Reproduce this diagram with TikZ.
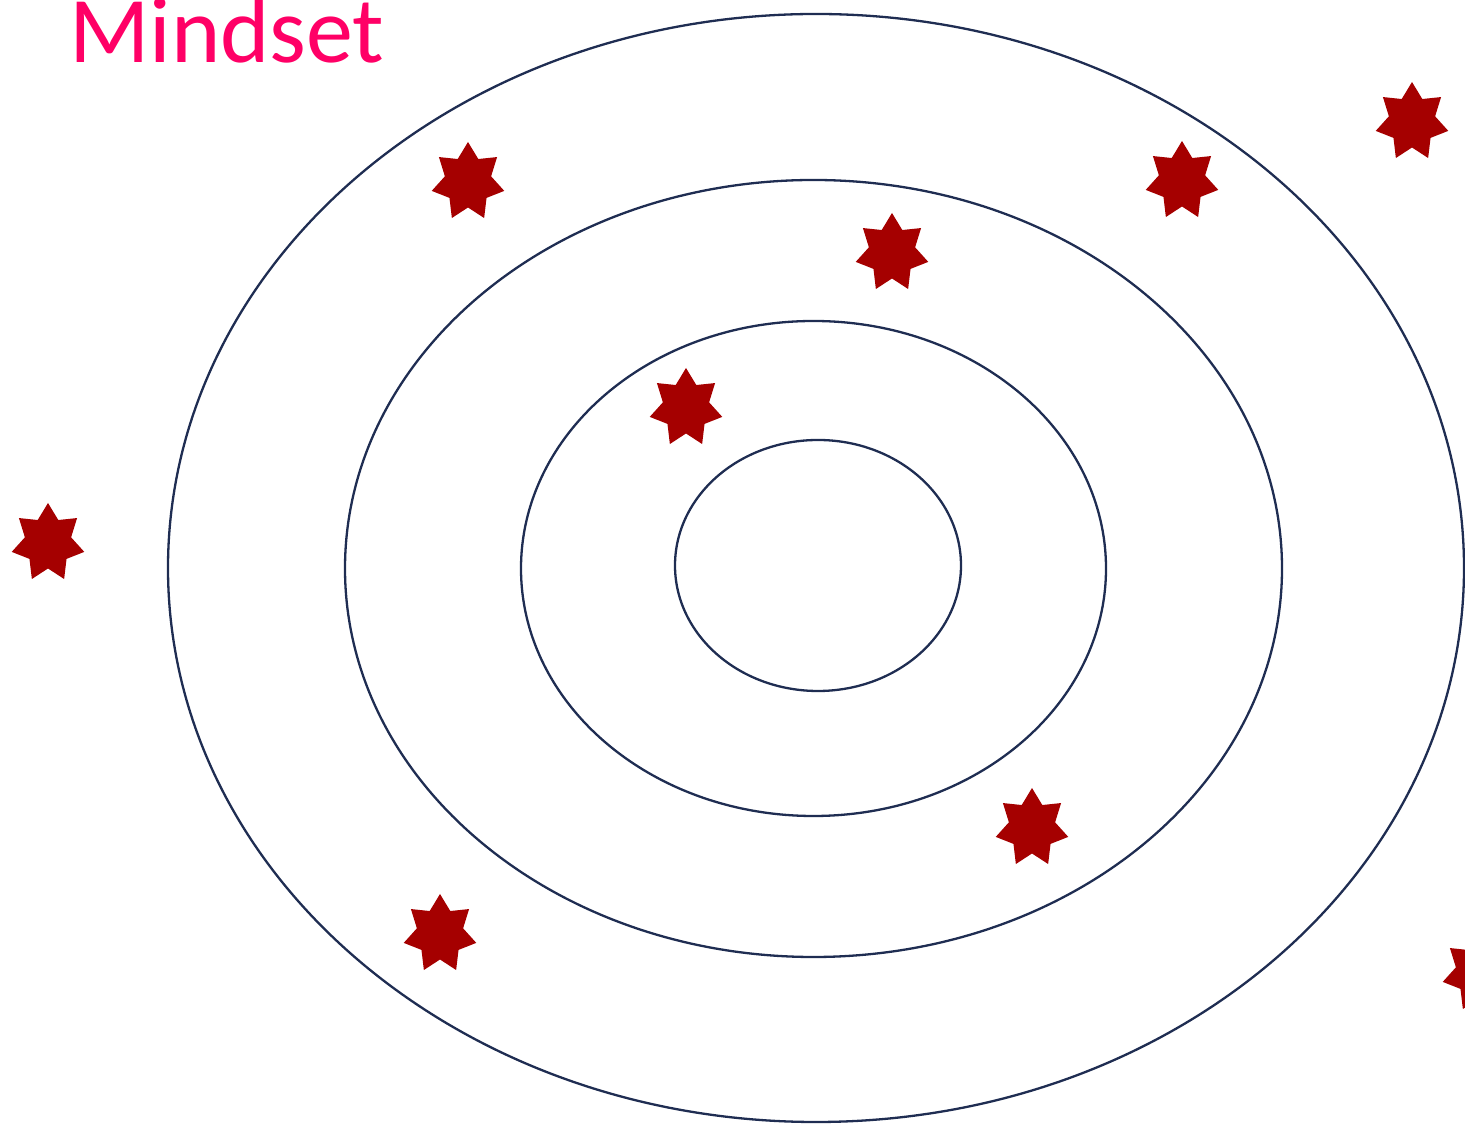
\documentclass[tikz,border=0pt]{standalone}
\usepackage{fontspec}
\setmainfont{Carlito}
\definecolor{ringblue}{HTML}{1F2D52}
\definecolor{starred}{HTML}{A50000}
\definecolor{mindpink}{HTML}{FF0066}
\tikzset{
  ring/.style={draw=ringblue, line width=2.3pt},
  redstar/.pic={
    \fill[starred, xscale=0.93] (90:40)
      \foreach \k in {1,...,13}{ -- ({90+\k*360/14}:{32.75+7.25*cos(\k*180)}) } -- cycle;
  }
}
\begin{document}
\begin{tikzpicture}[x=1pt,y=1pt]
\useasboundingbox (0,0) rectangle (1465,1124);
% rings (image y converted: y = 1124 - y_img)
\draw[ring] (816,556) ellipse [x radius=648pt, y radius=554pt];
\draw[ring] (813.5,555.5) ellipse [x radius=468.5pt, y radius=388.5pt];
\draw[ring] (813.5,555.5) ellipse [x radius=292.5pt, y radius=247.5pt];
\draw[ring] (818,558.5) ellipse [x radius=143pt, y radius=125.5pt];
% title
\node[anchor=base west, inner sep=0pt, font=\fontsize{94}{100}\selectfont, text=mindpink] (title) at (69,1061) {Mindset};
% stars
\pic (s1) at (468,942) {redstar};
\pic (s2) at (1412,1002) {redstar};
\pic (s3) at (1182,943) {redstar};
\pic (s4) at (892,871) {redstar};
\pic (s5) at (686,716) {redstar};
\pic (s6) at (48,581) {redstar};
\pic (s7) at (1032,296) {redstar};
\pic (s8) at (440,190) {redstar};
\pic (s9) at (1479,151) {redstar};
\end{tikzpicture}
\end{document}
